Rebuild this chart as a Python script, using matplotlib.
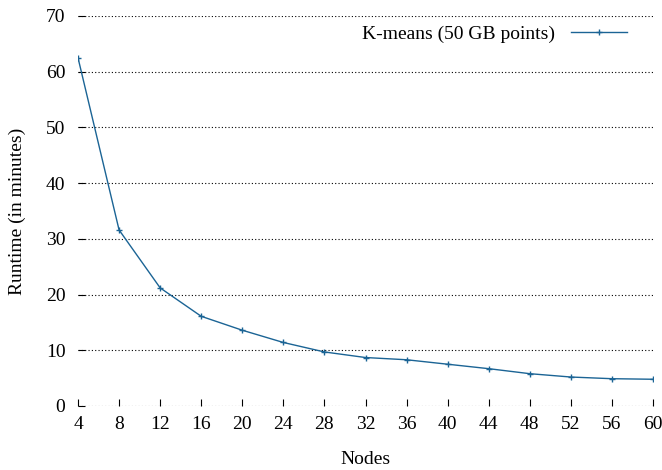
import matplotlib
matplotlib.use("Agg")
import matplotlib.pyplot as plt

nodes = [4, 8, 12, 16, 20, 24, 28, 32, 36, 40, 44, 48, 52, 56, 60]
runtime = [62.5, 31.6, 21.2, 16.1, 13.6, 11.4, 9.7, 8.7, 8.3, 7.5, 6.7, 5.8, 5.2, 4.9, 4.8]
series_label = "K-means (50 GB points)"

plt.rcParams["font.family"] = ["Liberation Serif", "DejaVu Serif"]
plt.rcParams["font.size"] = 14

fig = plt.figure(figsize=(6.62, 4.70), dpi=100)
ax = fig.add_axes([78/662, 64/470, 575/662, 390/470])

ax.plot(nodes, runtime, "-", color="#1b6495", lw=1.0, marker="+", ms=5, mew=1.0,
        label=series_label)

ax.set_xlim(4, 60)
ax.set_ylim(0, 70)
ax.set_xticks(nodes)
ax.set_yticks(range(0, 71, 10))
for s in ax.spines.values():
    s.set_visible(False)
ax.yaxis.grid(True, linestyle=(0, (1, 2)), color="black", lw=0.8)
ax.tick_params(axis="both", direction="in", length=5, width=0.8, colors="black")
ax.tick_params(axis="x", pad=7)
ax.tick_params(axis="y", pad=9)

ax.set_xlabel("Nodes", labelpad=13)
ax.set_ylabel("Runtime (in minutes)", labelpad=14)
ax.legend(loc="upper right", bbox_to_anchor=(627/662, 445/470), bbox_transform=fig.transFigure,
          frameon=False, markerfirst=False, handlelength=2.9, handletextpad=0.8,
          borderaxespad=0.0, borderpad=0.0)

fig.savefig("out.png", dpi=100)
